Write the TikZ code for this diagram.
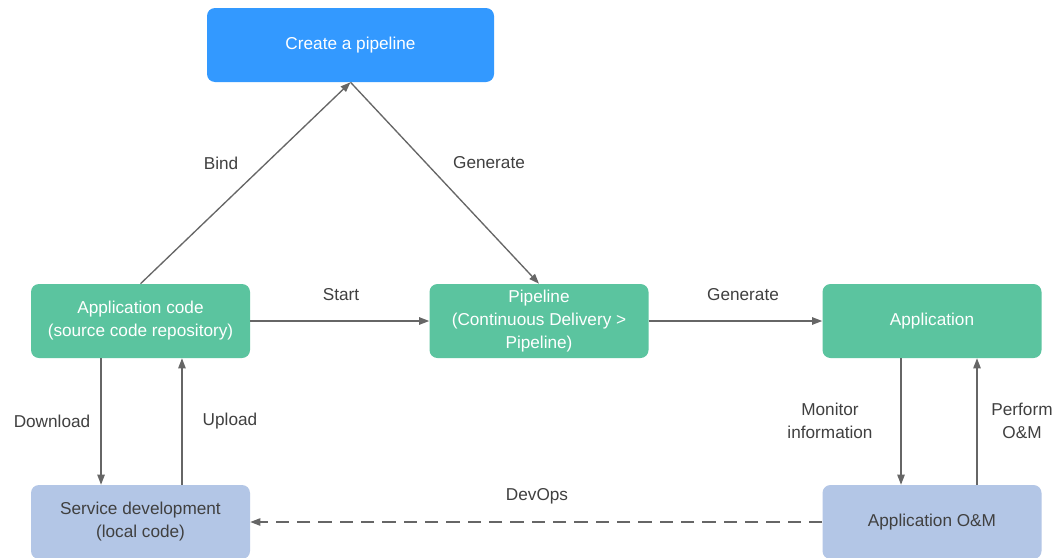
\documentclass[tikz,border=0pt]{standalone}
\usepackage{fontspec}
\setmainfont{Liberation Sans}
\usetikzlibrary{arrows.meta}
\definecolor{cblue}{HTML}{3399FF}
\definecolor{cgreen}{HTML}{5BC49F}
\definecolor{clight}{HTML}{B3C6E6}
\definecolor{cline}{HTML}{666666}
\definecolor{ctext}{HTML}{404040}
\tikzset{
  box/.style={rounded corners=6pt, inner sep=2pt, align=center, font=\fontsize{12.9}{17.3}\selectfont},
  topbox/.style={box, fill=cblue, text=white, minimum width=215.25pt, minimum height=55.5pt},
  greenbox/.style={box, fill=cgreen, text=white, minimum width=164.25pt, minimum height=55.5pt},
  lightbox/.style={box, fill=clight, text=ctext, minimum width=164.25pt, minimum height=55.5pt},
  conn/.style={draw=cline, line width=1pt, -{Triangle[length=7.5pt,width=5.5pt]}},
  lbl/.style={text=ctext, align=center, font=\fontsize{12.9}{17.3}\selectfont}
}
\begin{document}
\begin{tikzpicture}[x=0.75pt,y=-0.75pt]
\clip (0,0) rectangle (1063,557);
\fill[white] (0,0) rectangle (1063,557);
\node[topbox] (create) at (350.5,45) {Create a pipeline};
\node[greenbox] (app) at (140.5,321) {Application code\\(source code repository)};
\node[greenbox] (pipe) at (539,321) {Pipeline\\(Continuous Delivery \textgreater\\Pipeline)};
\node[greenbox] (appl) at (932,321) {Application};
\node[lightbox] (svc) at (140.5,522) {Service development\\(local code)};
\node[lightbox] (om) at (932,522) {Application O\&M};

\draw[conn] (app.north) -- (create.south);
\draw[conn] (create.south) -- (pipe.north);
\draw[conn] (app.east) -- (pipe.west);
\draw[conn] (pipe.east) -- (appl.west);
\draw[conn] ([xshift=-29.6pt]app.south) -- ([xshift=-29.6pt]svc.north);
\draw[conn] ([xshift=31.1pt]svc.north) -- ([xshift=31.1pt]app.south);
\draw[conn] ([xshift=-23.25pt]appl.south) -- ([xshift=-23.25pt]om.north);
\draw[conn] ([xshift=33.75pt]om.north) -- ([xshift=33.75pt]appl.south);
\draw[conn, dash pattern=on 10pt off 6pt] (om.west) -- (svc.east);

\node[lbl] (l1) at (221,163) {Bind};
\node[lbl] (l2) at (489,163) {Generate};
\node[lbl] (l3) at (341,295) {Start};
\node[lbl] (l4) at (743,295) {Generate};
\node[lbl] (l5) at (52,421) {Download};
\node[lbl] (l6) at (230,421) {Upload};
\node[lbl] (l7) at (830,421) {Monitor\\information};
\node[lbl] (l8) at (1022,421) {Perform\\O\&M};
\node[lbl] (l9) at (537,496) {DevOps};
\end{tikzpicture}
\end{document}
